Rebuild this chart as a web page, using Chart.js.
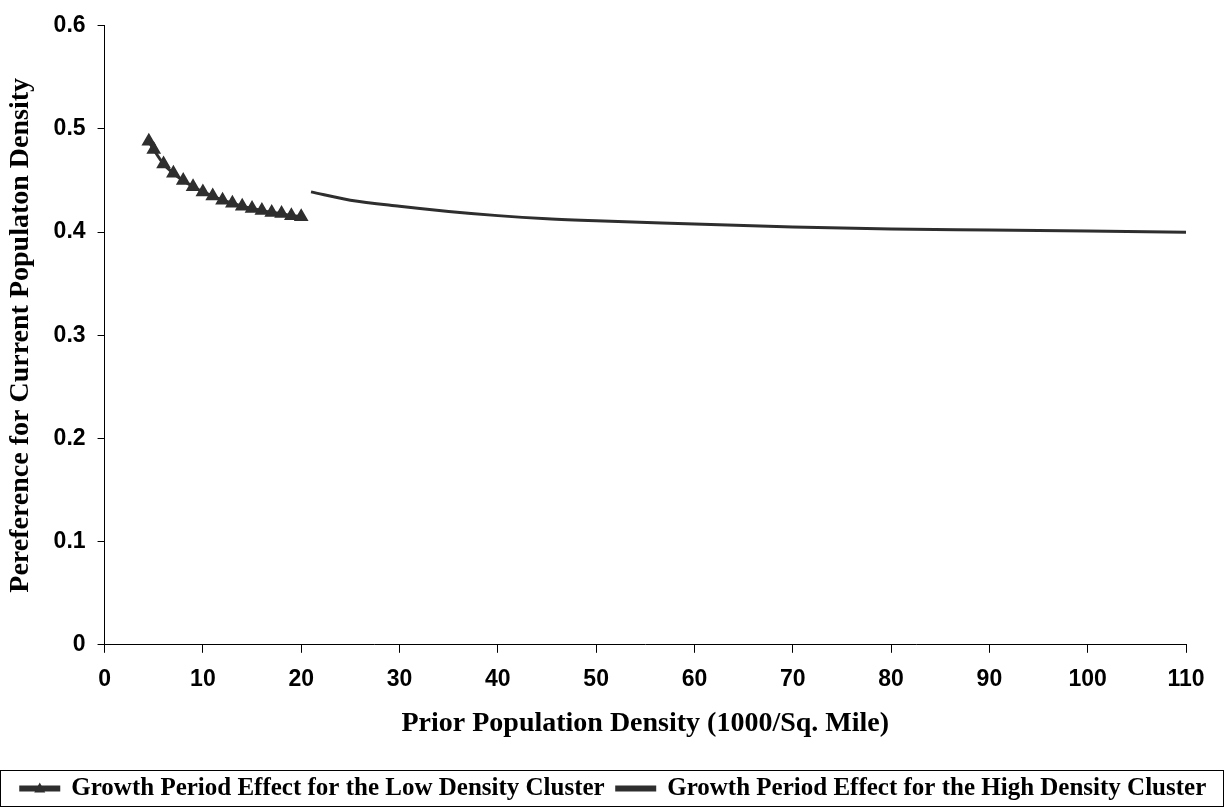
<!DOCTYPE html>
<html>
<head>
<meta charset="utf-8">
<script src="https://cdn.jsdelivr.net/npm/chart.js@4.4.0/dist/chart.umd.min.js"></script>
<style>
  html, body { margin: 0; padding: 0; background: #fff; }
  #wrap { width: 1225px; height: 807px; }
</style>
</head>
<body>
<div id="wrap"><canvas id="density"></canvas></div>
<script>
// values
var lowX = [4.5, 5, 6, 7, 8, 9, 10, 11, 12, 13, 14, 15, 16, 17, 18, 19, 20];
var lowY = [0.488, 0.480, 0.466, 0.457, 0.450, 0.444, 0.439, 0.435, 0.431, 0.428, 0.425, 0.423, 0.421, 0.419, 0.418, 0.416, 0.415];
var highX = [21, 25, 30, 35, 40, 45, 50, 60, 70, 80, 90, 100, 110];
var highY = [0.439, 0.431, 0.425, 0.420, 0.416, 0.413, 0.411, 0.408, 0.405, 0.403, 0.402, 0.401, 0.400];
var seriesNames = ['Growth Period Effect for the Low Density Cluster', 'Growth Period Effect for the High Density Cluster'];

function toPoints(xs, ys) {
  return xs.map(function (x, i) { return { x: x, y: ys[i] }; });
}

var ink = '#2e2e2e';

// frame round the legend + triangle on the first key
var legendDecor = {
  id: 'legendDecor',
  afterDraw: function (chart) {
    var lg = chart.legend, ctx = chart.ctx;
    var hb = lg.legendHitBoxes[0];
    if (!hb) return;
    var cy = hb.top + hb.height / 2;
    ctx.save();
    ctx.strokeStyle = '#000';
    ctx.lineWidth = 1;
    var top = Math.round(cy - 19) + 0.5;
    var bottom = Math.min(chart.height - 0.5, Math.round(cy + 18) + 0.5);
    ctx.strokeRect(0.5, top, chart.width - 2, bottom - top);
    var cx = hb.left + 19;
    ctx.fillStyle = ink;
    ctx.beginPath();
    ctx.moveTo(cx, cy - 6);
    ctx.lineTo(cx + 5.5, cy + 4);
    ctx.lineTo(cx - 5.5, cy + 4);
    ctx.closePath();
    ctx.fill();
    ctx.restore();
  }
};

var ctx = document.getElementById('density').getContext('2d');
var chart = new Chart(ctx, {
  type: 'scatter',
  data: {
    datasets: [{
      label: seriesNames[0],
      data: toPoints(lowX, lowY),
      showLine: true,
      borderColor: ink,
      backgroundColor: ink,
      borderWidth: 3,
      pointStyle: 'triangle',
      pointRadius: 5.5,
      pointHoverRadius: 5.5,
      tension: 0.3
    }, {
      label: seriesNames[1],
      data: toPoints(highX, highY),
      showLine: true,
      borderColor: ink,
      backgroundColor: ink,
      borderWidth: 3,
      pointRadius: 0,
      cubicInterpolationMode: 'monotone'
    }]
  },
  plugins: [legendDecor],
  options: {
    responsive: true,
    maintainAspectRatio: false,
    animation: false,
    layout: { padding: { top: 18, right: 0, left: 2, bottom: -4 } },
    plugins: {
      tooltip: { enabled: false },
      legend: {
        position: 'bottom',
        labels: {
          boxWidth: 38,
          boxHeight: 3,
          padding: 12,
          color: '#000',
          font: { family: 'Liberation Serif', weight: 'bold', size: 25 }
        }
      }
    },
    scales: {
      x: {
        type: 'linear',
        min: 0,
        max: 110,
        border: { color: '#000', width: 1 },
        grid: { drawOnChartArea: false, drawTicks: true, tickLength: 8, color: '#000' },
        ticks: {
          stepSize: 10,
          color: '#000',
          padding: 13,
          maxRotation: 0,
          font: { family: 'Liberation Sans', weight: 'bold', size: 23 }
        },
        title: {
          display: true,
          text: 'Prior Population Density (1000/Sq. Mile)',
          color: '#000',
          padding: { top: 1, bottom: 23 },
          font: { family: 'Liberation Serif', weight: 'bold', size: 28 }
        }
      },
      y: {
        min: 0,
        max: 0.6,
        border: { color: '#000', width: 1 },
        grid: { drawOnChartArea: false, drawTicks: true, tickLength: 7, color: '#000' },
        ticks: {
          stepSize: 0.1,
          color: '#000',
          padding: 12,
          font: { family: 'Liberation Sans', weight: 'bold', size: 23 }
        },
        title: {
          display: true,
          text: 'Pereference for Current Populaton Density',
          color: '#000',
          padding: { top: 2, bottom: 4 },
          font: { family: 'Liberation Serif', weight: 'bold', size: 28 }
        }
      },
      // empty right-hand strip so the plot ends at 110 where the reference does
      spacer: {
        type: 'linear',
        position: 'right',
        display: true,
        border: { display: false },
        grid: { display: false },
        ticks: { display: false },
        afterFit: function (scale) { scale.width = 39; }
      }
    }
  }
});
</script>
</body>
</html>
